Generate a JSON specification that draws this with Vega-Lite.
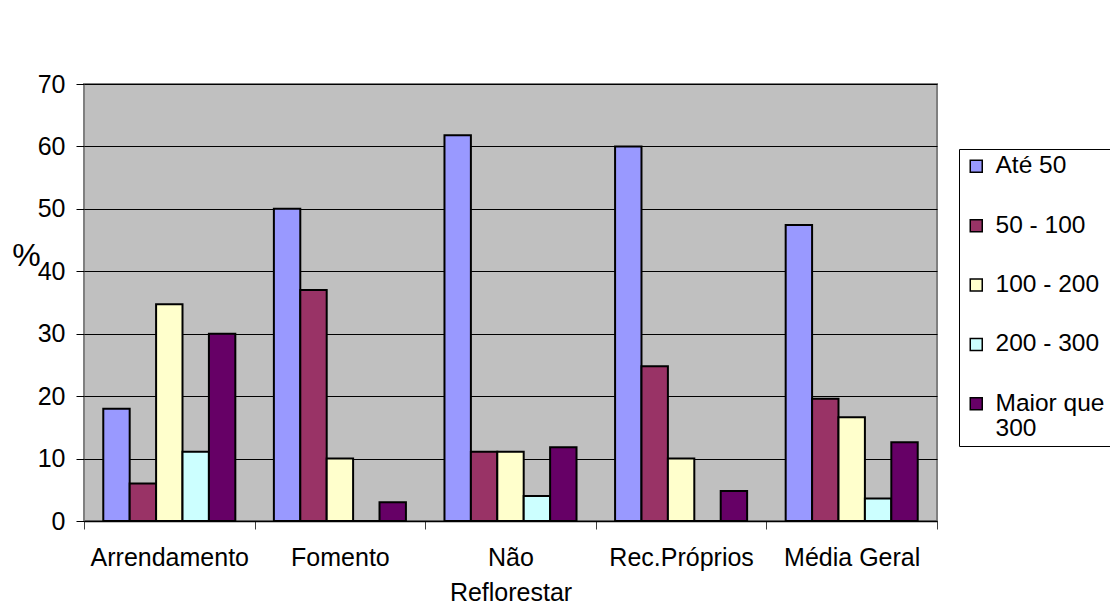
{
  "$schema": "https://vega.github.io/schema/vega-lite/v6.json",
  "width": 853,
  "height": 437,
  "autosize": {"type": "none"},
  "padding": {"left": 84, "top": 84, "right": 173, "bottom": 91},
  "background": "white",
  "config": {
    "font": "Liberation Sans",
    "view": {"fill": "#C0C0C0", "stroke": "#808080", "strokeWidth": 2}
  },
  "data": {
    "values": [
      {"categoria": "Arrendamento", "faixa": "Até 50", "pct": 18},
      {"categoria": "Arrendamento", "faixa": "50 - 100", "pct": 6},
      {"categoria": "Arrendamento", "faixa": "100 - 200", "pct": 34.7},
      {"categoria": "Arrendamento", "faixa": "200 - 300", "pct": 11.1},
      {"categoria": "Arrendamento", "faixa": "Maior que 300", "pct": 30},
      {"categoria": "Fomento", "faixa": "Até 50", "pct": 50},
      {"categoria": "Fomento", "faixa": "50 - 100", "pct": 37},
      {"categoria": "Fomento", "faixa": "100 - 200", "pct": 10},
      {"categoria": "Fomento", "faixa": "200 - 300", "pct": 0},
      {"categoria": "Fomento", "faixa": "Maior que 300", "pct": 3},
      {"categoria": "Não Reflorestar", "faixa": "Até 50", "pct": 61.8},
      {"categoria": "Não Reflorestar", "faixa": "50 - 100", "pct": 11.1},
      {"categoria": "Não Reflorestar", "faixa": "100 - 200", "pct": 11.1},
      {"categoria": "Não Reflorestar", "faixa": "200 - 300", "pct": 4},
      {"categoria": "Não Reflorestar", "faixa": "Maior que 300", "pct": 11.8},
      {"categoria": "Rec.Próprios", "faixa": "Até 50", "pct": 60},
      {"categoria": "Rec.Próprios", "faixa": "50 - 100", "pct": 24.8},
      {"categoria": "Rec.Próprios", "faixa": "100 - 200", "pct": 10},
      {"categoria": "Rec.Próprios", "faixa": "200 - 300", "pct": 0},
      {"categoria": "Rec.Próprios", "faixa": "Maior que 300", "pct": 4.8},
      {"categoria": "Média Geral", "faixa": "Até 50", "pct": 47.4},
      {"categoria": "Média Geral", "faixa": "50 - 100", "pct": 19.6},
      {"categoria": "Média Geral", "faixa": "100 - 200", "pct": 16.6},
      {"categoria": "Média Geral", "faixa": "200 - 300", "pct": 3.6},
      {"categoria": "Média Geral", "faixa": "Maior que 300", "pct": 12.6}
    ]
  },
  "mark": {"type": "bar", "stroke": "black", "strokeWidth": 2},
  "encoding": {
    "x": {
      "field": "categoria",
      "type": "nominal",
      "sort": ["Arrendamento", "Fomento", "Não Reflorestar", "Rec.Próprios", "Média Geral"],
      "scale": {"paddingInner": 0, "paddingOuter": 0},
      "axis": {
        "title": null,
        "labelAngle": 0,
        "tickBand": "extent",
        "tickSize": 8,
        "tickColor": "#404040",
        "domainColor": "black",
        "domainWidth": 1.5,
        "labelFontSize": 25,
        "labelColor": "black",
        "labelPadding": 16,
        "labelBaseline": "top",
        "labelLineHeight": 35,
        "labelExpr": "datum.label == 'Não Reflorestar' ? ['Não', 'Reflorestar'] : datum.label"
      }
    },
    "xOffset": {
      "field": "faixa",
      "type": "nominal",
      "sort": ["Até 50", "50 - 100", "100 - 200", "200 - 300", "Maior que 300"],
      "scale": {"paddingInner": 0, "paddingOuter": 0.73}
    },
    "y": {
      "field": "pct",
      "type": "quantitative",
      "scale": {"domain": [0, 70]},
      "axis": {
        "title": "%",
        "titleAngle": 0,
        "titleX": -58,
        "titleY": 171,
        "titleAlign": "center",
        "titleBaseline": "middle",
        "titleFontSize": 32,
        "titleFontWeight": "normal",
        "titleColor": "black",
        "values": [0, 10, 20, 30, 40, 50, 60, 70],
        "grid": true,
        "gridColor": "black",
        "gridWidth": 1,
        "domain": false,
        "tickColor": "black",
        "tickSize": 8,
        "labelFontSize": 25,
        "labelColor": "black",
        "labelPadding": 11
      }
    },
    "color": {
      "field": "faixa",
      "type": "nominal",
      "sort": ["Até 50", "50 - 100", "100 - 200", "200 - 300", "Maior que 300"],
      "scale": {
        "domain": ["Até 50", "50 - 100", "100 - 200", "200 - 300", "Maior que 300"],
        "range": ["#9999FF", "#993366", "#FFFFCC", "#CCFFFF", "#660066"]
      },
      "legend": {
        "title": null,
        "orient": "none",
        "legendX": 875,
        "legendY": 65,
        "direction": "vertical",
        "strokeColor": "black",
        "fillColor": "white",
        "padding": 5,
        "symbolType": "square",
        "symbolSize": 144,
        "symbolStrokeColor": "black",
        "symbolStrokeWidth": 1.5,
        "symbolOpacity": 1,
        "labelFontSize": 24.5,
        "labelColor": "black",
        "labelOffset": 7,
        "labelLimit": 300,
        "rowPadding": 34.4,
        "labelExpr": "datum.label == 'Maior que 300' ? ['Maior que', '300'] : datum.label",
        "encode": {
          "labels": {
            "update": {
              "lineHeight": {"value": 25.5}
            }
          }
        }
      }
    }
  }
}
